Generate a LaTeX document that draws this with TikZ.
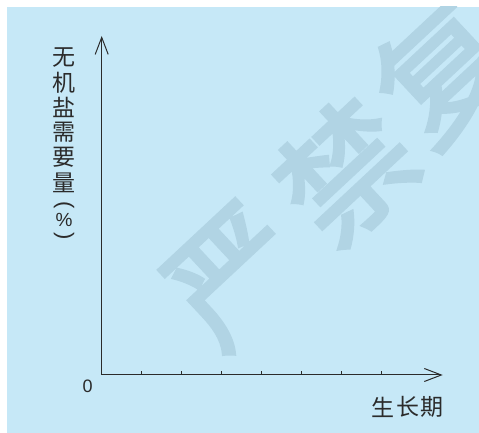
\documentclass[tikz,border=0pt]{standalone}
\usepackage{fontspec}
\setmainfont{Liberation Sans}
\newfontfamily\cjk{Noto Sans CJK SC}
\newfontfamily\cjkmark[FakeBold=3]{Noto Sans CJK SC}
\usetikzlibrary{arrows.meta,calc}
\definecolor{bgblue}{HTML}{C6E8F7}
\definecolor{markblue}{HTML}{B1D4E4}
\definecolor{inkgray}{HTML}{2B2B2B}
\tikzset{
	axisline/.style={line width=1pt, color=inkgray},
	barb/.tip={Straight Barb[length=17pt,width=13pt,line width=1pt]},
	cjklabel/.style={font=\cjk\fontsize{23}{23}\selectfont, text=inkgray, inner sep=0pt},
	watermark/.style={font=\cjkmark\fontsize{130}{130}\selectfont, text=markblue, inner sep=0pt, rotate=43},
}

\begin{document}
\begin{tikzpicture}[x=1pt, y=1pt]
		%%%%% START %%%%%
		
		\useasboundingbox (0, 0) rectangle (479, 433);
		\fill[white] (0, 0) rectangle (479, 433);
		\fill[bgblue] (7, 0) rectangle (479, 426);
		
		\begin{scope}
			\clip (7, 0) rectangle (479, 426);
			\node[watermark] (wmA) at (235, 157) {严};
			\node[watermark] (wmB) at (346, 262) {禁};
			\node[watermark] (wmC) at (443, 362) {复};
		\end{scope}
		
		\coordinate (O) at (101.7, 58);
		\coordinate (ytop) at (101.7, 397);
		\coordinate (xend) at (442.7, 58);
		\draw[axisline, barb-barb] (ytop) -- (O) -- (xend);
		
		\foreach \i in {1,...,7}
			\draw[axisline] ($(O)+(40*\i, 0)$) -- ++(0, 3.5);
		
		\node[text=inkgray, font=\fontsize{18}{18}\selectfont, inner sep=0pt] (zero) at (87.7, 46.3) {0};
		
		\foreach \ch [count=\i] in {无,机,盐,需,要,量}
			\node[cjklabel] (ylab\i) at (64, {433-57.5-25*(\i-1)}) {\ch};
		\node[cjklabel, font=\fontsize{22}{22}\selectfont, rotate=-90] (lpar) at (64, 228) {(};
		\node[cjklabel, font=\fontsize{19}{19}\selectfont] (pct) at (64, 213) {\%};
		\node[cjklabel, font=\fontsize{22}{22}\selectfont, rotate=-90] (rpar) at (64, 197) {)};
		
		\node[cjklabel] (xlabA) at (383, 26) {生};
		\node[cjklabel] (xlabB) at (408, 26) {长};
		\node[cjklabel] (xlabC) at (432, 26) {期};
		
		%%%%% END %%%%%
	\end{tikzpicture}
\end{document}
